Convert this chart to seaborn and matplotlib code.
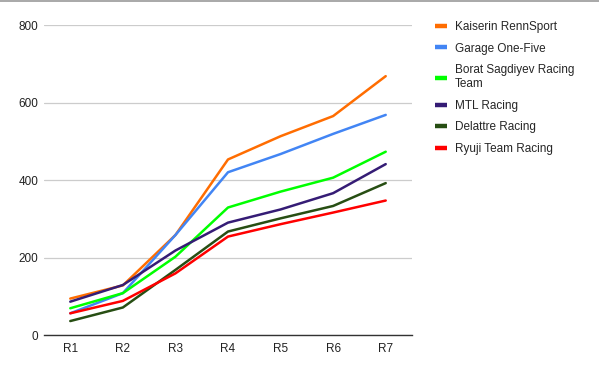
import matplotlib
matplotlib.use("Agg")
import matplotlib.pyplot as plt
import seaborn as sns
import pandas as pd
from matplotlib.lines import Line2D

rounds = ["R1", "R2", "R3", "R4", "R5", "R6", "R7"]
teams = ["Kaiserin RennSport", "Garage One-Five", "Borat Sagdiyev Racing\nTeam",
         "MTL Racing", "Delattre Racing", "Ryuji Team Racing"]
kaiserin = [94, 128, 258, 453, 513, 565, 668]
garage = [56, 108, 258, 420, 467, 519, 568]
borat = [69, 108, 202, 329, 370, 406, 473]
mtl = [86, 129, 218, 290, 324, 366, 441]
delattre = [36, 71, 168, 267, 301, 333, 392]
ryuji = [56, 88, 159, 254, 286, 316, 347]
colors = ["#ff6d01", "#4285f4", "#00ff00", "#351c75", "#274e13", "#ff0000"]
yticks = [0, 200, 400, 600, 800]

series = [kaiserin, garage, borat, mtl, delattre, ryuji]
rows = []
for t, vals in zip(teams, series):
    for i, (r, v) in enumerate(zip(rounds, vals)):
        rows.append({"round": i, "team": t, "points": v})
df = pd.DataFrame(rows)

sns.set_theme(style="white")
plt.rcParams['font.family'] = ['Liberation Sans', 'DejaVu Sans']

fig = plt.figure(figsize=(5.99, 3.69), dpi=100)
ax = fig.add_axes([44/599, 1-335/369, (412-44)/599, (335-25)/369])

sns.lineplot(data=df, x="round", y="points", hue="team", hue_order=teams,
             palette=colors, linewidth=1.8, ax=ax, legend=False)

ax.set_xlim(-0.5, 6.5)
ax.set_ylim(0, 800)
ax.set_yticks(yticks)
ax.set_yticklabels([str(v) for v in yticks])
ax.set_xticks(range(len(rounds)))
ax.set_xticklabels(rounds)
ax.set_xlabel("")
ax.set_ylabel("")
for s in ["top", "right", "left"]:
    ax.spines[s].set_visible(False)
ax.spines["bottom"].set_color("#333333")
ax.spines["bottom"].set_linewidth(1.0)
ax.yaxis.grid(True, color="#cccccc", linewidth=0.9)
ax.set_axisbelow(True)
ax.tick_params(axis="both", length=0, labelsize=8.5, colors="#222222")
ax.tick_params(axis="y", pad=4)
ax.tick_params(axis="x", pad=6)

handles = [Line2D([0], [0], color=c, linewidth=3.2, solid_capstyle="butt") for c in colors]
leg = fig.legend(handles, teams, loc="upper left", bbox_to_anchor=(429/599, 1-15/369),
                 frameon=False, fontsize=8.5, handlelength=1.0, handletextpad=0.7,
                 labelspacing=0.82, borderpad=0)

fig.add_artist(Line2D([0, 1], [1 - 0.5/369, 1 - 0.5/369], color="#999999",
                      linewidth=1.2, transform=fig.transFigure))

fig.savefig("out.png", dpi=100, facecolor="white")
